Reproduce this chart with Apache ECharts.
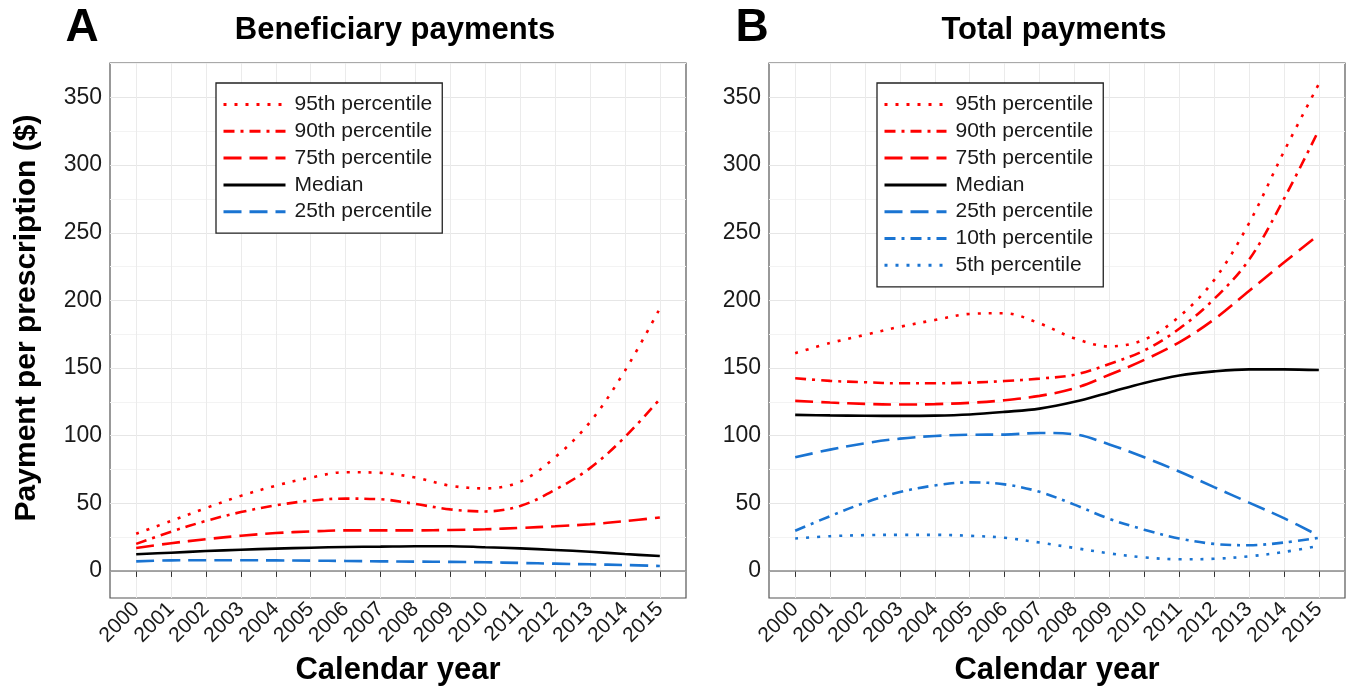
<!DOCTYPE html>
<html>
<head>
<meta charset="utf-8">
<script src="https://cdn.jsdelivr.net/npm/echarts@6/dist/echarts.min.js"></script>
<style>
html,body{margin:0;padding:0;background:#fff;}
#chart{width:1355px;height:694px;}
</style>
</head>
<body>
<div id="chart"></div>
<script>
// ---- data ----
const years = [2000,2001,2002,2003,2004,2005,2006,2007,2008,2009,2010,2011,2012,2013,2014,2015];
const yTickLabels = [0,50,100,150,200,250,300,350];
const yGridValues = [0,25,50,75,100,125,150,175,200,225,250,275,300,325,350,375];

// Panel A: Beneficiary payments
const p95A = [27.5,37,46.5,55.5,63,69,73,72.5,69,63,61,66,84,110,148,194];
const p90A = [20,29,37,43.5,48.5,52,53.5,53,49.5,45.5,44,48,60,76,99,127];
const p75A = [17,20.5,23.5,26,28,29.2,30,30,30,30.3,30.8,31.8,33,34.5,36.8,39.5];
const medA = [12.3,13.5,14.7,15.7,16.5,17.2,17.7,18,18.3,18.3,17.5,16.7,15.5,14.2,12.5,11];
const p25A = [7.1,7.8,7.9,7.9,7.8,7.6,7.4,7.1,6.9,6.7,6.4,5.9,5.4,4.9,4.4,3.7];

// Panel B: Total payments
const p95B = [161,168.5,174.5,180.5,185.5,190,190.5,183,172,166,171,188,215,257,310,360];
const p90B = [142.5,140.5,139.5,138.7,138.7,139.2,140.4,142.2,145,153,163,179,201,230,275,326];
const p75B = [125.7,124.5,123.5,123,123.3,124.3,126.2,129.4,135,145,156,169,186,207,228,248.5];
const medB = [115.4,115,114.7,114.6,114.8,115.7,117.6,120,125,132,139,144.5,147.5,149,149,148.5];
const p25B = [84,89.7,94.4,97.8,99.8,100.7,100.8,102,101,93.5,84,73.5,62,50.5,39,26];
const p10B = [29.7,40.5,50.5,58.3,63.2,65.5,64,58.5,49,38.5,30.5,24,20,19,21,24.5];
const p5B  = [24,25.7,26.5,26.7,26.7,26,24.5,21,17,13,10,8.6,9,10.8,14,18.5];

const namesA = ['95th percentile','90th percentile','75th percentile','Median','25th percentile'];
const namesB = ['95th percentile','90th percentile','75th percentile','Median','25th percentile','10th percentile','5th percentile'];

// ---- styles ----
const FONT = '"Liberation Sans", Arial, Helvetica, sans-serif';
const RED = '#ff0000', BLUE = '#1a74d2', BLACK = '#000000';
const DOT = [3, 8], DASHDOT = [11, 6, 3, 6], LONGDASH = [18, 8];

function pairs(vals){ return years.map((y,i)=>[y, vals[i]]); }

function mkSeries(name, vals, gi, color, type){
  return {
    name: name, type: 'line', xAxisIndex: gi, yAxisIndex: gi,
    data: pairs(vals), smooth: 0.35, showSymbol: false, symbol: 'none',
    clip: true, silent: true, animation: false,
    lineStyle: { color: color, width: 2.6, type: type, cap: 'butt' },
    itemStyle: { color: color },
    z: 3
  };
}

function xAxisCfg(gi){
  return {
    type: 'value', gridIndex: gi, min: 1999.25, max: 2015.75,
    axisLine: { show: false },
    axisTick: { show: true, customValues: years, length: 6, lineStyle: { color: '#333', width: 1 } },
    axisLabel: { customValues: years, rotate: 45, fontSize: 21, color: '#1a1a1a', margin: 8, fontFamily: FONT,
                 formatter: function(v){ return String(Math.round(v)); } },
    splitLine: { show: true, lineStyle: { color: '#ebebeb', width: 1 } }
  };
}
function yAxisCfg(gi){
  return {
    type: 'value', gridIndex: gi, min: -20, max: 375.5,
    axisLine: { show: false },
    axisTick: { show: false, customValues: yGridValues },
    axisLabel: { customValues: yTickLabels, fontSize: 23, color: '#1a1a1a', margin: 8, fontFamily: FONT },
    splitLine: { show: true, lineStyle: { color: ['#e6e6e6', '#f3f3f3'], width: 1 } }
  };
}

const zeroLine = {
  silent: true, symbol: 'none', animation: false,
  label: { show: false },
  lineStyle: { color: '#8a8a8a', width: 1.6, type: 'solid' },
  data: [{ yAxis: 0 }]
};

const seriesA = [
  mkSeries(namesA[0], p95A, 0, RED, DOT),
  mkSeries(namesA[1], p90A, 0, RED, DASHDOT),
  mkSeries(namesA[2], p75A, 0, RED, LONGDASH),
  mkSeries(namesA[3], medA, 0, BLACK, 'solid'),
  mkSeries(namesA[4], p25A, 0, BLUE, LONGDASH)
];
seriesA[4].markLine = zeroLine;

const seriesB = [
  mkSeries(namesB[0], p95B, 1, RED, DOT),
  mkSeries(namesB[1], p90B, 1, RED, DASHDOT),
  mkSeries(namesB[2], p75B, 1, RED, LONGDASH),
  mkSeries(namesB[3], medB, 1, BLACK, 'solid'),
  mkSeries(namesB[4], p25B, 1, BLUE, LONGDASH),
  mkSeries(namesB[5], p10B, 1, BLUE, DASHDOT),
  mkSeries(namesB[6], p5B, 1, BLUE, DOT)
];
seriesB[6].markLine = zeroLine;

function legendCfg(names, left){
  return {
    data: names, orient: 'vertical', left: left, top: 83,
    backgroundColor: '#ffffff', borderColor: '#222', borderWidth: 1.3,
    padding: [11, 10, 11, 6], itemWidth: 62, itemHeight: 14, itemGap: 5.8,
    selectedMode: false,
    itemStyle: { opacity: 0 },
    lineStyle: { width: 3 },
    textStyle: { fontSize: 21, lineHeight: 21, color: '#1a1a1a', fontFamily: FONT, padding: [0,0,0,4] }
  };
}

const chart = echarts.init(document.getElementById('chart'), null, { renderer: 'canvas' });
chart.setOption({
  backgroundColor: '#ffffff',
  animation: false,
  grid: [
    { left: 110, top: 63, width: 576, height: 535, show: true, borderColor: '#555', borderWidth: 1.2, backgroundColor: 'transparent' },
    { left: 769, top: 63, width: 576, height: 535, show: true, borderColor: '#555', borderWidth: 1.2, backgroundColor: 'transparent' }
  ],
  xAxis: [xAxisCfg(0), xAxisCfg(1)],
  yAxis: [yAxisCfg(0), yAxisCfg(1)],
  legend: [legendCfg(namesA, 216), legendCfg(namesB, 877)],
  series: seriesA.concat(seriesB),
  graphic: [
    { type: 'text', x: 82, y: 28, style: { text: 'A', font: 'bold 46px ' + FONT, fill: '#000', textAlign: 'center', textVerticalAlign: 'middle' } },
    { type: 'text', x: 395, y: 30, style: { text: 'Beneficiary payments', font: 'bold 31px ' + FONT, fill: '#000', textAlign: 'center', textVerticalAlign: 'middle' } },
    { type: 'text', x: 752, y: 28, style: { text: 'B', font: 'bold 46px ' + FONT, fill: '#000', textAlign: 'center', textVerticalAlign: 'middle' } },
    { type: 'text', x: 1054, y: 30, style: { text: 'Total payments', font: 'bold 31px ' + FONT, fill: '#000', textAlign: 'center', textVerticalAlign: 'middle' } },
    { type: 'text', x: 398, y: 670, style: { text: 'Calendar year', font: 'bold 31px ' + FONT, fill: '#000', textAlign: 'center', textVerticalAlign: 'middle' } },
    { type: 'text', x: 1057, y: 670, style: { text: 'Calendar year', font: 'bold 31px ' + FONT, fill: '#000', textAlign: 'center', textVerticalAlign: 'middle' } },
    { type: 'text', x: 27, y: 318, rotation: Math.PI / 2, style: { text: 'Payment per prescription ($)', font: 'bold 30px ' + FONT, fill: '#000', textAlign: 'center', textVerticalAlign: 'middle' } }
  ]
});
</script>
</body>
</html>
